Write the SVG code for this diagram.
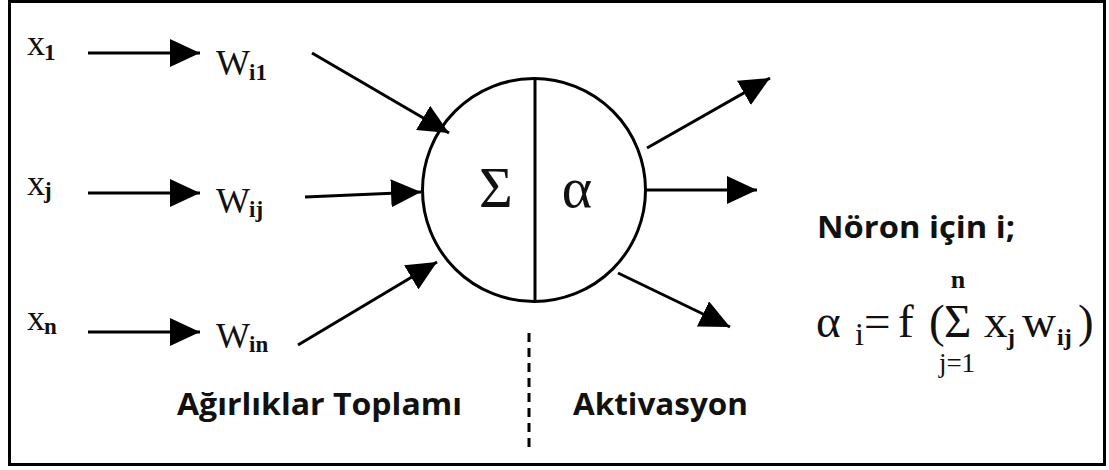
<svg xmlns="http://www.w3.org/2000/svg" width="1109" height="470" viewBox="0 0 1109 470">
<defs>
<marker id="ah" markerUnits="userSpaceOnUse" markerWidth="30" markerHeight="28" refX="30" refY="14" orient="auto" viewBox="0 0 30 28">
<path d="M0,0 L30,14 L0,28 Z" fill="#000"/>
</marker>
<style>
.ser{font-family:"Liberation Serif","Times New Roman",serif;fill:#111}
.v{font-size:36px}
.s{font-size:23px;font-weight:bold}
.f{font-size:47px}
.lab{font-family:"Open Sans","Noto Sans","Liberation Sans",sans-serif;font-weight:bold;font-size:30px;fill:#111}
.ln{stroke:#000;stroke-width:3;fill:none}
</style>
</defs>
<rect x="0" y="0" width="1109" height="470" fill="#fff"/>
<rect x="9.5" y="1.5" width="1095" height="463" fill="none" stroke="#000" stroke-width="3"/>

<g id="input-x1"><text class="ser v" x="27" y="55">x</text><text class="ser s" x="44" y="60">1</text></g>
<g id="input-xj"><text class="ser v" x="27" y="195">x</text><text class="ser s" x="44" y="198">j</text></g>
<g id="input-xn"><text class="ser v" x="27" y="330">x</text><text class="ser s" x="44" y="334">n</text></g>

<g id="weight-wi1"><text class="ser v" x="216" y="75">W</text><text class="ser s" x="249" y="80">i1</text></g>
<g id="weight-wij"><text class="ser v" x="216" y="213">W</text><text class="ser s" x="249" y="217">ij</text></g>
<g id="weight-win"><text class="ser v" x="216" y="348">W</text><text class="ser s" x="249" y="352">in</text></g>

<g id="neuron">
<circle cx="534" cy="190" r="111.5" class="ln"/>
<line x1="535" y1="78" x2="535" y2="302" class="ln"/>
<text class="ser" x="496" y="207" font-size="58" text-anchor="middle">Σ</text>
<text class="ser" x="577" y="207" font-size="58" text-anchor="middle">α</text>
</g>

<g id="connectors">
<line x1="88" y1="53" x2="200" y2="53" class="ln" marker-end="url(#ah)"/>
<line x1="88" y1="193" x2="200" y2="193" class="ln" marker-end="url(#ah)"/>
<line x1="88" y1="332" x2="200" y2="332" class="ln" marker-end="url(#ah)"/>
<line x1="312" y1="53" x2="449" y2="133" class="ln" marker-end="url(#ah)"/>
<line x1="305" y1="197" x2="421" y2="192" class="ln" marker-end="url(#ah)"/>
<line x1="298" y1="345" x2="437" y2="262" class="ln" marker-end="url(#ah)"/>
<line x1="647" y1="148" x2="770" y2="78" class="ln" marker-end="url(#ah)"/>
<line x1="645" y1="190" x2="757" y2="190" class="ln" marker-end="url(#ah)"/>
<line x1="618" y1="273" x2="730" y2="327" class="ln" marker-end="url(#ah)"/>
<line x1="529" y1="333" x2="529" y2="447" stroke="#000" stroke-width="3" stroke-dasharray="9,6"/>
</g>

<g id="label-sum"><text class="lab" x="177" y="415" textLength="285" lengthAdjust="spacingAndGlyphs">Ağırlıklar Toplamı</text></g>
<g id="label-act"><text class="lab" x="573" y="415" textLength="175" lengthAdjust="spacingAndGlyphs">Aktivasyon</text></g>
<g id="label-neuron"><text class="lab" x="817" y="238" textLength="198" lengthAdjust="spacingAndGlyphs">Nöron için i;</text></g>

<g id="formula" class="ser">
<text x="958" y="288" font-size="26" font-weight="bold" text-anchor="middle">n</text>
<text class="f" x="816" y="337">α</text>
<text x="855" y="345" font-size="32">i</text>
<text class="f" x="864" y="337">=</text>
<text class="f" x="898" y="337">f</text>
<text class="f" x="929" y="337">(</text>
<text class="f" x="944" y="337">Σ</text>
<text class="f" x="984" y="337">x</text>
<text x="1007" y="345" font-size="24" font-weight="bold">j</text>
<text class="f" x="1022" y="337">w</text>
<text x="1057" y="345" font-size="24" font-weight="bold">ij</text>
<text class="f" x="1078" y="337">)</text>
<text x="957" y="372" font-size="27" text-anchor="middle">j=1</text>
</g>
</svg>
